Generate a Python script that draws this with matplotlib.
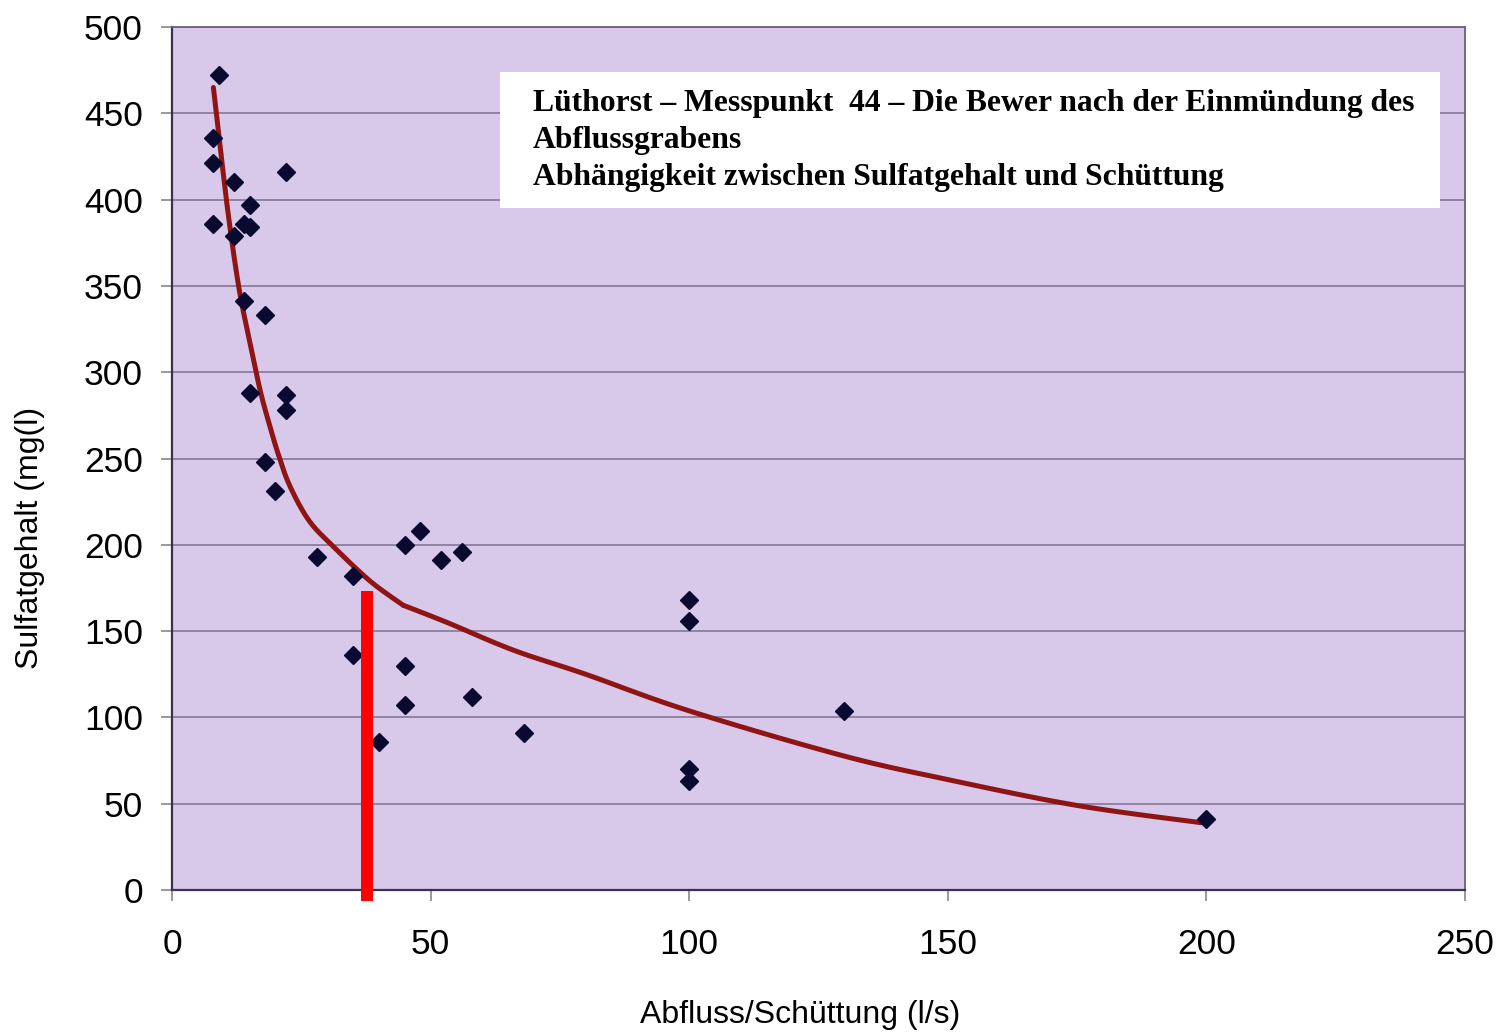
import numpy as np
import matplotlib.pyplot as plt
from matplotlib.patches import Rectangle

# measured points: discharge (l/s) and sulfate (mg/l)
abfluss = [9, 8, 8, 22, 12, 15, 8, 14, 15, 12, 14, 18, 15, 22, 22, 18, 20,
           28, 35, 45, 48, 52, 56, 35, 45, 45, 58, 40, 68,
           100, 100, 100, 100, 130, 200]
sulfat = [472, 436, 421, 416, 410, 397, 386, 386, 384, 379, 341, 333, 288, 287, 278, 248, 231,
          193, 182, 200, 208, 191, 196, 136, 130, 107, 112, 86, 91,
          168, 156, 70, 63, 104, 41]

# hand drawn trend line (two pieces, kink at 45 l/s)
trend1_x = [8.0, 9.6, 11.2, 13.1, 15.1, 17.0, 18.8, 20.6, 22.8, 26.5, 31.2, 38.3, 44.7]
trend1_y = [465, 423, 384, 346, 317, 290, 270, 252, 234, 214, 199, 179, 165]
trend2_x = [44.7, 53.2, 66, 80, 99.8, 129.5, 150, 175, 199]
trend2_y = [165, 155, 139, 125, 104, 78, 64, 49, 39]

# red marker bar
bar_x = 37.7
bar_y = [-6.5, 173]

title_lines = ['Lüthorst – Messpunkt  44 – Die Bewer nach der Einmündung des',
               'Abflussgrabens',
               'Abhängigkeit zwischen Sulfatgehalt und Schüttung']


def smooth(xs, ys, n=12):
    # catmull-rom through the read points
    p = np.column_stack([xs, ys]).astype(float)
    p = np.vstack([p[0], p, p[-1]])
    out = []
    t = np.linspace(0, 1, n, endpoint=False)[:, None]
    for i in range(1, len(p) - 2):
        p0, p1, p2, p3 = p[i - 1], p[i], p[i + 1], p[i + 2]
        out.append(0.5 * (2 * p1 + (-p0 + p2) * t + (2 * p0 - 5 * p1 + 4 * p2 - p3) * t ** 2
                          + (-p0 + 3 * p1 - 3 * p2 + p3) * t ** 3))
    out.append(p[-2][None, :])
    out = np.vstack(out)
    return out[:, 0], out[:, 1]


fig = plt.figure(figsize=(15.01, 10.33), dpi=100)
ax = fig.add_axes([0.1146, 0.1384, 0.8614, 0.8354])
ax.set_facecolor('#d8c8ea')

ax.set_xlim(0, 250)
ax.set_ylim(0, 500)
ax.set_xticks(range(0, 251, 50))
ax.set_yticks(range(0, 501, 50))
ax.grid(axis='y', color='#7d7090', lw=1.1)
ax.set_axisbelow(True)

ax.tick_params(axis='both', labelsize=25.5, colors='#888888', labelcolor='black', length=8, width=1.2)
ax.tick_params(axis='x', pad=19)
ax.tick_params(axis='y', pad=13)
for lab in ax.get_xticklabels() + ax.get_yticklabels():
    lab.set_family('Liberation Sans')
for s in ['left', 'bottom']:
    ax.spines[s].set_color('#3a3050')
    ax.spines[s].set_linewidth(1.6)
for s in ['top', 'right']:
    ax.spines[s].set_color('#6a5f80')
    ax.spines[s].set_linewidth(1.3)

for tx, ty in [(trend1_x, trend1_y), (trend2_x, trend2_y)]:
    sx, sy = smooth(tx, ty)
    ax.plot(sx, sy, color='#8f1515', lw=3.6, zorder=3, solid_capstyle='round')
ax.plot(abfluss, sulfat, 'D', color='#0a0a30', ms=9, zorder=4)
ax.plot([bar_x, bar_x], bar_y, color='#ff0000', lw=8.6, solid_capstyle='butt', clip_on=False, zorder=5)

ax.add_patch(Rectangle((0.2537, 0.790), 0.727, 0.158, transform=ax.transAxes,
                       facecolor='white', edgecolor='none', zorder=6))
for i, line in enumerate(title_lines):
    ax.text(0.2792, 0.911 - i * 0.0425, line, transform=ax.transAxes, ha='left', va='center',
            fontsize=22.8, fontweight='bold', family='Liberation Serif', zorder=7)

fig.text(800 / 1501, 0.0174, 'Abfluss/Schüttung (l/s)', ha='center', va='center',
         fontsize=23, family='Liberation Sans')
fig.text(30 / 1501, 0.479, 'Sulfatgehalt (mg(l)', ha='center', va='center', rotation=90,
         fontsize=23, family='Liberation Sans')

fig.savefig('out.png', dpi=100)
